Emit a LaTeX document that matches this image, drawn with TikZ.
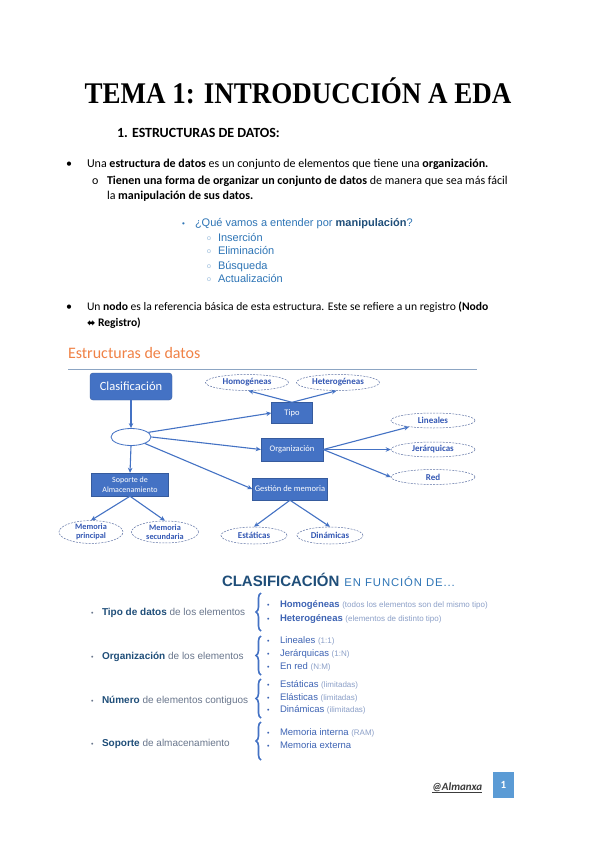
\documentclass[tikz,border=0pt]{standalone}
\usepackage{fontspec}
\setmainfont{Carlito}
\newfontfamily\arialf{Liberation Sans}
\newfontfamily\arialsp{Liberation Sans}[LetterSpace=8]
\newfontfamily\timesf{Liberation Serif}
\newfontfamily\dejavuf{DejaVu Sans}
\usetikzlibrary{arrows.meta,decorations.pathreplacing,shapes.geometric}
\definecolor{boxblue}{RGB}{68,114,196}
\definecolor{elltext}{RGB}{52,88,180}
\definecolor{ellborder}{RGB}{95,115,165}
\definecolor{steel}{RGB}{46,117,182}
\definecolor{navy}{RGB}{31,78,121}
\definecolor{orangeh}{RGB}{240,130,70}
\definecolor{rulec}{RGB}{140,165,195}
\definecolor{greyblue}{RGB}{105,118,140}
\definecolor{itemblue}{RGB}{62,100,180}
\definecolor{paren}{RGB}{140,160,200}
\definecolor{pagebox}{RGB}{91,155,213}
\definecolor{footc}{RGB}{60,60,60}
\tikzset{
  txt/.style={anchor=base west, inner sep=0pt, outer sep=0pt},
  body/.style={txt, font=\fontsize{12}{14}\selectfont},
  bluetxt/.style={txt, font=\arialf\fontsize{11}{13}\selectfont, text=steel},
  lefttxt/.style={txt, font=\arialf\fontsize{10}{12}\selectfont, text=greyblue},
  righttxt/.style={txt, font=\arialf\fontsize{9.5}{11}\selectfont, text=itemblue},
  rbul/.style={txt, font=\arialf\fontsize{7}{8}\selectfont, text=itemblue},
  box/.style={rectangle, fill=boxblue, draw=boxblue!80!black, line width=0.4pt, text=white,
    font=\fontsize{8.5}{9.5}\selectfont, inner sep=1pt},
  ell/.style={ellipse, draw=ellborder, dash pattern=on 2pt off 1.2pt, line width=0.5pt, fill=white,
    text=elltext, font=\bfseries\fontsize{9}{9.5}\selectfont, inner sep=0pt, align=center},
  ell2/.style={ell, font=\bfseries\fontsize{8.3}{9}\selectfont},
  arr/.style={draw=boxblue, line width=1.1pt, -{Stealth[length=5pt,width=4.5pt]}},
  bracestyle/.style={draw=boxblue, line width=1.6pt, decorate,
    decoration={brace, amplitude=5pt}}
}
\newcommand{\pr}[1]{{\fontsize{8}{9}\selectfont\color{paren}#1}}
\begin{document}
\begin{tikzpicture}[x=1pt,y=-1pt]
\useasboundingbox (0,0) rectangle (599,848);
\fill[white] (0,0) rectangle (599,848);

% Title
\node[anchor=base, inner sep=0pt] (title) at (298,104)
  {\timesf\bfseries\fontsize{30}{30}\selectfont\scalebox{0.9}[1]{TEMA 1: INTRODUCCIÓN A EDA}};
\node[txt, font=\bfseries\fontsize{14}{16}\selectfont] (sec) at (117,138) {1. ESTRUCTURAS DE DATOS:};

% Bullets
\node[body] (b1) at (66,167) {•};
\node[body] (l1) at (87,167) {Una \textbf{estructura de datos} es un conjunto de elementos que tiene una \textbf{organización.}};
\node[body] (b2) at (92,184) {o};
\node[body] (l2) at (107,184) {\textbf{Tienen una forma de organizar un conjunto de datos} de manera que sea más fácil};
\node[body] (l3) at (107,199) {la \textbf{manipulación de sus datos.}};

\node[bluetxt, font=\arialf\fontsize{8}{9}\selectfont] (b3) at (182,226) {•};
\node[bluetxt] (l4) at (195,226) {¿Qué vamos a entender por \textbf{\color{navy}manipulación}?};
\node[bluetxt, font=\arialf\fontsize{7}{8}\selectfont, text=steel!50] (s1b) at (207,240) {o};
\node[bluetxt] (s1) at (218,241) {Inserción};
\node[bluetxt, font=\arialf\fontsize{7}{8}\selectfont, text=steel!50] (s2b) at (207,253) {o};
\node[bluetxt] (s2) at (218,254) {Eliminación};
\node[bluetxt, font=\arialf\fontsize{7}{8}\selectfont, text=steel!50] (s3b) at (207,268) {o};
\node[bluetxt] (s3) at (218,269) {Búsqueda};
\node[bluetxt, font=\arialf\fontsize{7}{8}\selectfont, text=steel!50] (s4b) at (207,281) {o};
\node[bluetxt] (s4) at (218,282) {Actualización};

\node[body] (b4) at (66,310) {•};
\node[body, font=\fontsize{11.6}{14}\selectfont] (l5) at (87,310) {Un \textbf{nodo} es la referencia básica de esta estructura. Este se refiere a un registro \textbf{(Nodo}};
\node[body, font=\fontsize{11.6}{14}\selectfont] (l6) at (87,326) {\textbf{{\dejavuf\fontsize{10}{10}\selectfont ⬌} Registro)}};

% Diagram header
\node[txt, font=\fontsize{16}{18}\selectfont, text=orangeh] (hdr) at (68,358) {Estructuras de datos};
\draw[rulec, line width=1pt] (68,369.5) -- (477,369.5);

% Diagram nodes
\node[box, rounded corners=3pt, minimum width=82pt, minimum height=27pt,
  font=\fontsize{12.5}{14}\selectfont] (clas) at (131,386.5) {Clasificación};
\node[ellipse, draw=boxblue, line width=0.8pt, fill=white, minimum width=40pt, minimum height=17pt] (root) at (131,437) {};
\node[box, minimum width=41pt, minimum height=21pt] (tipo) at (292,413) {Tipo};
\node[box, minimum width=62pt, minimum height=23pt] (org) at (292,449.5) {Organización};
\node[box, minimum width=75pt, minimum height=22pt] (gest) at (290,489) {Gestión de memoria};
\node[box, minimum width=77pt, minimum height=23pt, align=center,
  font=\fontsize{8}{9.5}\selectfont] (sop) at (130,484.5) {Soporte de\\Almacenamiento};

\node[ell, minimum width=83pt, minimum height=16pt] (homo) at (247,382.5) {Homogéneas};
\node[ell, minimum width=83pt, minimum height=16pt] (hete) at (338,382.5) {Heterogéneas};
\node[ell, minimum width=84pt, minimum height=15pt] (lin) at (433,420.5) {Lineales};
\node[ell, minimum width=84pt, minimum height=15pt] (jer) at (433,449.5) {Jerárquicas};
\node[ell, minimum width=84pt, minimum height=15pt] (red) at (433,477) {Red};
\node[ell2, minimum width=64pt, minimum height=22pt] (mp) at (91,532) {Memoria\\principal};
\node[ell2, minimum width=67pt, minimum height=22pt] (ms) at (165,532) {Memoria\\secundaria};
\node[ell, minimum width=66pt, minimum height=17pt] (est) at (254,535.5) {Estáticas};
\node[ell, minimum width=66pt, minimum height=17pt] (din) at (330,535.5) {Dinámicas};

% Connectors
\draw[arr] (clas.south) -- (root.north);
\draw[arr] (root.15) -- (tipo.west);
\draw[arr] (root.east) -- (org.west);
\draw[arr] (root.-25) -- (gest.west);
\draw[arr] (root.south) -- (sop.north);
\draw[arr] (tipo.north) -- (homo.-80);
\draw[arr] (tipo.north) -- (hete.-100);
\draw[arr] (org.east) -- (lin.195);
\draw[arr] (org.east) -- (jer.west);
\draw[arr] (org.east) -- (red.west);
\draw[arr] (sop.south) -- (mp.north);
\draw[arr] (sop.south) -- (ms.north);
\draw[arr] (gest.south) -- (est.north);
\draw[arr] (gest.south) -- (din.north);

% Clasificacion section
\node[txt] (ctitle) at (222,586) {{\arialf\bfseries\fontsize{15}{17}\selectfont\color{navy}CLASIFICACIÓN}\hspace{5pt}{\arialsp\fontsize{11.3}{13}\selectfont\color{steel}EN FUNCIÓN DE...}};

\node[lefttxt, font=\arialf\fontsize{7}{8}\selectfont] (lb1) at (91,615) {•};
\node[lefttxt] (lt1) at (102,615.5) {\textbf{\color{navy}Tipo de datos} de los elementos};
\node[lefttxt, font=\arialf\fontsize{7}{8}\selectfont] (lb2) at (91,659) {•};
\node[lefttxt] (lt2) at (102,659.5) {\textbf{\color{navy}Organización} de los elementos};
\node[lefttxt, font=\arialf\fontsize{7}{8}\selectfont] (lb3) at (91,703) {•};
\node[lefttxt] (lt3) at (102,703.5) {\textbf{\color{navy}Número} de elementos contiguos};
\node[lefttxt, font=\arialf\fontsize{7}{8}\selectfont] (lb4) at (91,746) {•};
\node[lefttxt] (lt4) at (102,746.5) {\textbf{\color{navy}Soporte} de almacenamiento};

% Braces
\draw[bracestyle] (261,631) -- (261,593);
\draw[bracestyle] (261,675) -- (261,636);
\draw[bracestyle] (261,718) -- (261,679);
\draw[bracestyle] (261,760) -- (261,722);

% Right items
\node[rbul] (rb1) at (267,607) {•};
\node[righttxt] (r1) at (280,607.5) {\textbf{Homogéneas} \pr{(todos los elementos son del mismo tipo)}};
\node[rbul] (rb2) at (267,621) {•};
\node[righttxt] (r2) at (280,621.5) {\textbf{Heterogéneas} \pr{(elementos de distinto tipo)}};
\node[rbul] (rb3) at (267,643) {•};
\node[righttxt] (r3) at (280,643.5) {Lineales \pr{(1:1)}};
\node[rbul] (rb4) at (267,656) {•};
\node[righttxt] (r4) at (280,656.5) {Jerárquicas \pr{(1:N)}};
\node[rbul] (rb5) at (267,669) {•};
\node[righttxt] (r5) at (280,669.5) {En red \pr{(N:M)}};
\node[rbul] (rb6) at (267,687) {•};
\node[righttxt] (r6) at (280,687.5) {Estáticas \pr{(limitadas)}};
\node[rbul] (rb7) at (267,700) {•};
\node[righttxt] (r7) at (280,700.5) {Elásticas \pr{(limitadas)}};
\node[rbul] (rb8) at (267,712) {•};
\node[righttxt] (r8) at (280,712.5) {Dinámicas \pr{(ilimitadas)}};
\node[rbul] (rb9) at (267,735) {•};
\node[righttxt] (r9) at (280,735.5) {Memoria interna \pr{(RAM)}};
\node[rbul] (rb10) at (267,748) {•};
\node[righttxt] (r10) at (280,748.5) {Memoria externa};

% Footer
\node[txt, font=\bfseries\itshape\fontsize{11}{13}\selectfont, text=footc] (foot) at (432,790) {\underline{@Almanxa}};
\node[fill=pagebox, minimum width=21pt, minimum height=26pt, inner sep=0pt, text=white,
  font=\bfseries\fontsize{11}{13}\selectfont] (pg) at (503.5,785) {1};
\end{tikzpicture}
\end{document}
